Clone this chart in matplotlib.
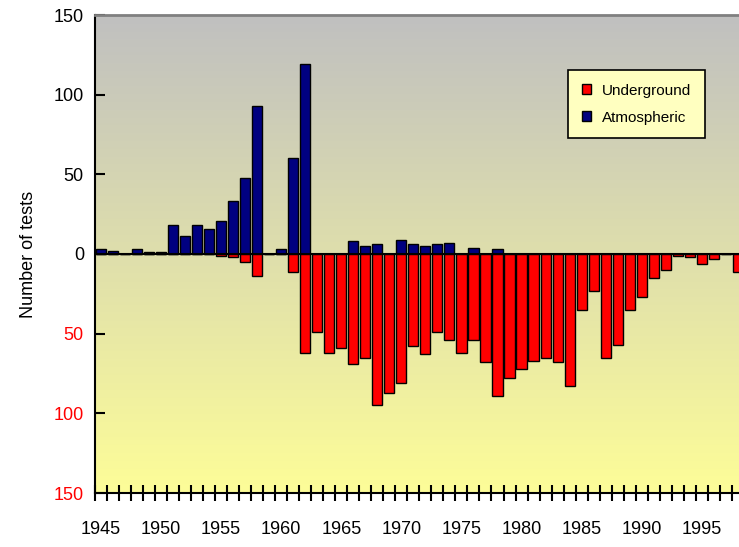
import numpy as np
import matplotlib
matplotlib.use("Agg")
import matplotlib.pyplot as plt
from matplotlib.patches import Patch

plt.rcParams['font.family'] = ['Liberation Sans', 'DejaVu Sans']

years = list(range(1945, 1999))
atmospheric = [3, 2, 0, 3, 1, 1, 18, 11, 18, 16, 21, 33, 48, 93, 0, 3, 60, 119,
               0, 0, 0, 8, 5, 6, 0, 9, 6, 5, 6, 7, 0, 4, 0, 3, 0, 0,
               0, 0, 0, 0, 0, 0, 0, 0, 0, 0, 0, 0, 0, 0, 0, 0, 0, 0]
underground = [0, 0, 0, 0, 0, 0, 0, 0, 0, 0, 1, 2, 5, 14, 0, 0, 11, 62,
               49, 62, 59, 69, 65, 95, 87, 81, 58, 63, 49, 54, 62, 54, 68, 89, 78, 72,
               67, 65, 68, 83, 35, 23, 65, 57, 35, 27, 15, 10, 1, 2, 6, 3, 0, 11]

fig = plt.figure(figsize=(7.39, 5.47), dpi=100)
ax = fig.add_axes([95/739, 1 - 493/547, 644/739, 478/547])

# gradient background
grad = np.linspace(0, 1, 256).reshape(-1, 1)
cmap = matplotlib.colors.LinearSegmentedColormap.from_list('bg', ['#fdfd98', '#c0c0c0'])
ax.imshow(grad, extent=[1944.5, 1998.1, -150, 150], origin='lower', aspect='auto',
          cmap=cmap, zorder=0)

x = np.array(years)
ax.bar(x, atmospheric, width=0.84, color='#000080', edgecolor='black', linewidth=1, zorder=2)
ax.bar(x, [-v for v in underground], width=0.84, color='#ff0000', edgecolor='black', linewidth=1, zorder=2)
ax.axhline(0, color='black', linewidth=1.5, zorder=3)

ax.set_xlim(1944.5, 1998.1)
ax.set_ylim(-150, 150)
ax.set_yticks([150, 100, 50, 0, -50, -100, -150])
ax.set_yticklabels(['150', '100', '50', '0', '50', '100', '150'], fontsize=13)
for lab in ax.get_yticklabels()[4:]:
    lab.set_color('red')
ax.tick_params(axis='y', direction='in', length=7, width=1.5, pad=8)
ax.set_xticks(np.arange(1945, 1999, 5))
ax.set_xticklabels([str(y) for y in range(1945, 1999, 5)], fontsize=13)
ax.set_xticks(np.arange(1944.5, 1998.5, 1), minor=True)
ax.tick_params(axis='x', which='major', length=0, pad=20)
ax.tick_params(axis='x', which='minor', direction='inout', length=12, width=1.5)
ax.set_ylabel('Number of tests', fontsize=13, labelpad=12)

ax.spines['right'].set_visible(False)
ax.spines['top'].set_color('gray')
ax.spines['top'].set_linewidth(2)
ax.spines['left'].set_linewidth(1.5)
ax.spines['bottom'].set_linewidth(1.5)

handles = [Patch(facecolor='#ff0000', edgecolor='black'), Patch(facecolor='#000080', edgecolor='black')]
leg = ax.legend(handles, ['Underground', 'Atmospheric'], loc='upper right',
                bbox_to_anchor=(0.947, 0.885), borderaxespad=0, fontsize=11, fancybox=False,
                framealpha=1, handlelength=0.6, handleheight=0.6, borderpad=0.9,
                labelspacing=0.85, handletextpad=0.7)
leg.get_frame().set_facecolor('#ffffc0')
leg.get_frame().set_edgecolor('black')
leg.get_frame().set_linewidth(1.2)
leg.set_zorder(5)

fig.savefig('out.png', dpi=100)
